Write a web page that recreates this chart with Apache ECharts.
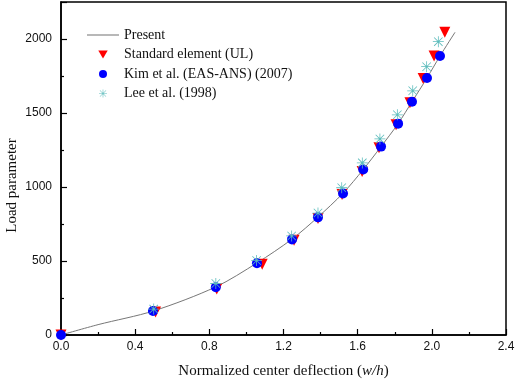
<!DOCTYPE html>
<html><head><meta charset="utf-8">
<script src="https://cdn.jsdelivr.net/npm/echarts@6/dist/echarts.min.js"></script>
<style>html,body{margin:0;padding:0;background:#fff}#c{width:516px;height:380px}</style>
</head><body><div id="c"></div>
<script>
// Data
const presentX = [0, 0.2, 0.5, 0.835, 1.057, 1.246, 1.386, 1.521, 1.63, 1.726, 1.818, 1.893, 1.974, 2.044, 2.125];
const presentY = [0, 70, 163, 325, 487, 648, 797, 958, 1118, 1273, 1428, 1576, 1737, 1885, 2045];

const standardX = [0, 0.51, 0.84, 1.085, 1.257, 1.386, 1.516, 1.624, 1.715, 1.807, 1.882, 1.953, 2.012, 2.07];
const standardY = [0, 155, 310, 478, 640, 788, 950, 1104, 1266, 1421, 1569, 1733, 1885, 2045];

const kimX = [0, 0.496, 0.835, 1.057, 1.246, 1.386, 1.521, 1.63, 1.726, 1.818, 1.893, 1.974, 2.044];
const kimY = [0, 162, 323, 485, 646, 795, 956, 1118, 1273, 1428, 1576, 1737, 1885];

const leeX = [0.5, 0.835, 1.055, 1.244, 1.386, 1.514, 1.625, 1.72, 1.814, 1.897, 1.972, 2.035];
const leeY = [175, 348, 503, 669, 824, 995, 1163, 1325, 1488, 1650, 1813, 1982];

const xTicks = ['0.0', '0.4', '0.8', '1.2', '1.6', '2.0', '2.4'];
const yTicks = ['0', '500', '1000', '1500', '2000'];
const yMax = 2250;

const seriesNames = ['Present', 'Standard element (UL)', 'Kim et al. (EAS-ANS) (2007)', 'Lee et al. (1998)'];

const zip = (xs, ys) => xs.map((x, i) => [x, ys[i]]);

const asterisk = 'path://M9.3 0H10.7V20H9.3Z M0 9.3H20V10.7H0Z M1.8 2.8L2.8 1.8L18.2 17.2L17.2 18.2Z M17.2 1.8L18.2 2.8L2.8 18.2L1.8 17.2Z';
const downTri = 'path://M0 0H20L10 17Z';
const lineIcon = 'path://M0 0H40V1.3H0Z';

const xInterval = parseFloat(xTicks[1]) - parseFloat(xTicks[0]);
const yInterval = parseFloat(yTicks[1]) - parseFloat(yTicks[0]);

const chart = echarts.init(document.getElementById('c'));
chart.setOption({
  animation: false,
  backgroundColor: '#fff',
  grid: { left: 61, right: 10, top: 2, bottom: 45, containLabel: false, outerBoundsMode: 'none',
    show: true, borderColor: '#000', borderWidth: 1.5, backgroundColor: 'transparent' },
  legend: {
    orient: 'vertical', left: 87, top: 28, padding: 0, itemWidth: 32, itemHeight: 8, itemGap: 5.5,
    textStyle: { fontFamily: 'Liberation Serif', fontSize: 14, lineHeight: 14, color: '#111' },
    data: [
      { name: seriesNames[0], icon: lineIcon, itemStyle: { color: '#777' } },
      { name: seriesNames[1], icon: downTri, itemStyle: { color: '#ff0000' } },
      { name: seriesNames[2], icon: 'circle', itemStyle: { color: '#0000ff' } },
      { name: seriesNames[3], icon: asterisk, itemStyle: { color: '#5cbcbc' } }
    ]
  },
  xAxis: {
    type: 'value', min: parseFloat(xTicks[0]), max: parseFloat(xTicks[xTicks.length - 1]), interval: xInterval,
    splitLine: { show: false },
    axisLine: { lineStyle: { color: '#000', width: 1.5 } },
    axisTick: { inside: true, length: 6, lineStyle: { color: '#000', width: 1.2 } },
    minorTick: { show: true, splitNumber: 2, length: 3, lineStyle: { color: '#000', width: 1.2 } },
    axisLabel: { margin: 6, fontFamily: 'Liberation Sans', fontSize: 12, color: '#111',
      formatter: v => { const i = Math.round(v / xInterval); return xTicks[i] !== undefined ? xTicks[i] : ''; } },
    name: 'Normalized center deflection ({it|w/h})', nameLocation: 'middle', nameGap: 29, nameMoveOverlap: false,
    nameTextStyle: { fontFamily: 'Liberation Serif', fontSize: 15, color: '#111',
      rich: { it: { fontFamily: 'Liberation Serif', fontStyle: 'italic', fontSize: 15, color: '#111' } } }
  },
  yAxis: {
    type: 'value', min: parseFloat(yTicks[0]), max: yMax, interval: yInterval,
    splitLine: { show: false },
    axisLine: { lineStyle: { color: '#000', width: 1.5 } },
    axisTick: { inside: true, length: 6, lineStyle: { color: '#000', width: 1.2 } },
    minorTick: { show: true, splitNumber: 2, length: 3, lineStyle: { color: '#000', width: 1.2 } },
    axisLabel: { margin: 9, fontFamily: 'Liberation Sans', fontSize: 12, color: '#111', showMaxLabel: false,
      formatter: v => { const i = Math.round(v / yInterval); return (v % yInterval === 0 && yTicks[i] !== undefined) ? yTicks[i] : ''; } },
    name: 'Load parameter', nameLocation: 'middle', nameGap: 41, nameMoveOverlap: false,
    nameTextStyle: { fontFamily: 'Liberation Serif', fontSize: 15, color: '#111', padding: [0, 34, 0, 0] }
  },
  series: [
    { name: seriesNames[0], type: 'line', data: zip(presentX, presentY), smooth: 0.3, symbol: 'none',
      lineStyle: { color: '#777', width: 1 }, itemStyle: { color: '#777' }, z: 1 },
    { name: seriesNames[1], type: 'scatter', data: zip(standardX, standardY), symbol: 'triangle', symbolRotate: 180,
      symbolSize: 11, itemStyle: { color: '#ff0000', opacity: 1 }, z: 2 },
    { name: seriesNames[2], type: 'scatter', data: zip(kimX, kimY), symbol: 'circle',
      symbolSize: 10, itemStyle: { color: '#0000ff', opacity: 1 }, z: 3 },
    { name: seriesNames[3], type: 'scatter', data: zip(leeX, leeY), symbol: asterisk,
      symbolSize: 11, itemStyle: { color: '#5cbcbc', opacity: 1 }, z: 4 }
  ]
});
</script></body></html>
